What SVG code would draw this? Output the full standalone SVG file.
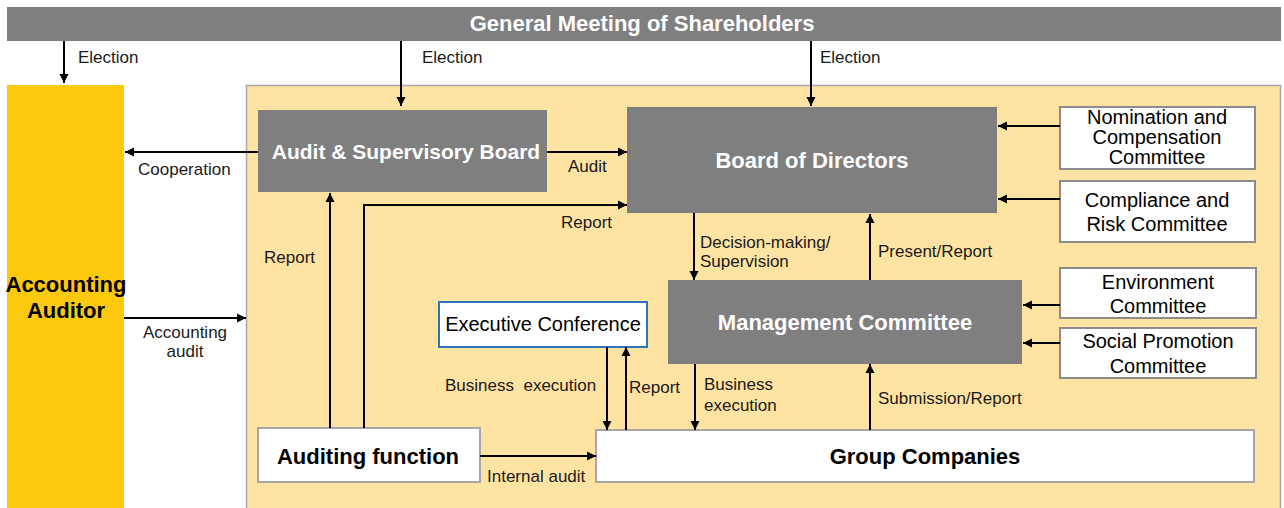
<svg xmlns="http://www.w3.org/2000/svg" width="1284" height="508" viewBox="0 0 1284 508">
<defs>
<style>
.gray{fill:#7f7f7f}
.wbox{fill:#ffffff;stroke:#8c8c8c;stroke-width:2}
.tb{font-family:"Liberation Sans",Arial,sans-serif;font-weight:bold;font-size:22px;text-anchor:middle}
.tw{fill:#ffffff}
.tk{fill:#000000}
.tc{font-family:"Liberation Sans",Arial,sans-serif;font-size:20px;fill:#000;text-anchor:middle}
.lb{font-family:"Liberation Sans",Arial,sans-serif;font-size:17px;fill:#1a1a1a}
.cn{fill:none;stroke:#000;stroke-width:2;marker-end:url(#ah)}
</style>
<marker id="ah" viewBox="0 0 10 10" refX="10" refY="5" markerWidth="9" markerHeight="10" markerUnits="userSpaceOnUse" orient="auto">
<path d="M0,0 L10,5 L0,10 z" fill="#000"/>
</marker>
</defs>
<rect x="0" y="0" width="1284" height="508" fill="#ffffff"/>

<g id="region">
<rect x="246.5" y="85.5" width="1034" height="424" fill="#ffe3a3" stroke="#a6a6a6" stroke-width="1.5"/>
</g>

<g id="shareholders">
<rect x="7" y="7" width="1274" height="34" class="gray"/>
<text x="642" y="31" class="tb tw">General Meeting of Shareholders</text>
</g>

<g id="accounting-auditor">
<rect x="7" y="85" width="117" height="423" fill="#fdc90c"/>
<text x="66" y="292" class="tb tk">Accounting</text>
<text x="66" y="318" class="tb tk">Auditor</text>
</g>

<g id="asb">
<rect x="258" y="110" width="289" height="82" class="gray"/>
<text x="406" y="159" class="tb tw" style="font-size:21px">Audit &amp; Supervisory Board</text>
</g>

<g id="bod">
<rect x="627" y="107" width="370" height="106" class="gray"/>
<text x="812" y="168" class="tb tw">Board of Directors</text>
</g>

<g id="nomination">
<rect x="1060" y="107" width="195" height="62" class="wbox"/>
<text x="1157" y="124" class="tc">Nomination and</text>
<text x="1157" y="144" class="tc">Compensation</text>
<text x="1157" y="164" class="tc">Committee</text>
</g>

<g id="compliance">
<rect x="1060" y="181" width="195" height="61" class="wbox"/>
<text x="1157" y="207" class="tc">Compliance and</text>
<text x="1157" y="231" class="tc">Risk Committee</text>
</g>

<g id="management">
<rect x="668" y="280" width="354" height="84" class="gray"/>
<text x="845" y="330" class="tb tw">Management Committee</text>
</g>

<g id="environment">
<rect x="1060" y="268" width="196" height="50" class="wbox"/>
<text x="1158" y="289" class="tc">Environment</text>
<text x="1158" y="313" class="tc">Committee</text>
</g>

<g id="social">
<rect x="1060" y="328" width="196" height="50" class="wbox"/>
<text x="1158" y="348" class="tc">Social Promotion</text>
<text x="1158" y="373" class="tc">Committee</text>
</g>

<g id="executive">
<rect x="439" y="302" width="208" height="45" fill="#ffffff" stroke="#2e75b6" stroke-width="2"/>
<text x="543" y="331" class="tc">Executive Conference</text>
</g>

<g id="auditing">
<rect x="258" y="428" width="222" height="54" fill="#ffffff" stroke="#a6a6a6" stroke-width="2"/>
<text x="368" y="464" class="tb tk">Auditing function</text>
</g>

<g id="group">
<rect x="596" y="430" width="658" height="52" fill="#ffffff" stroke="#a6a6a6" stroke-width="2"/>
<text x="925" y="464" class="tb tk">Group Companies</text>
</g>

<g id="connectors">
<line x1="64" y1="41" x2="64" y2="83" class="cn"/>
<line x1="401" y1="41" x2="401" y2="106" class="cn"/>
<line x1="811" y1="41" x2="811" y2="106" class="cn"/>
<line x1="258" y1="152" x2="125" y2="152" class="cn"/>
<line x1="547" y1="152" x2="627" y2="152" class="cn"/>
<polyline points="364,428 364,205 627,205" class="cn"/>
<line x1="330" y1="428" x2="330" y2="193" class="cn"/>
<line x1="124" y1="318" x2="246" y2="318" class="cn"/>
<line x1="694" y1="213" x2="694" y2="280" class="cn"/>
<line x1="870" y1="280" x2="870" y2="214" class="cn"/>
<line x1="1060" y1="126" x2="998" y2="126" class="cn"/>
<line x1="1060" y1="199" x2="998" y2="199" class="cn"/>
<line x1="1060" y1="305" x2="1023" y2="305" class="cn"/>
<line x1="1060" y1="343" x2="1023" y2="343" class="cn"/>
<line x1="607" y1="347" x2="607" y2="430" class="cn"/>
<line x1="626" y1="430" x2="626" y2="347" class="cn"/>
<line x1="695" y1="364" x2="695" y2="430" class="cn"/>
<line x1="870" y1="430" x2="870" y2="364" class="cn"/>
<line x1="480" y1="456" x2="596" y2="456" class="cn"/>
</g>

<g id="labels">
<text x="78" y="63" class="lb">Election</text>
<text x="422" y="63" class="lb">Election</text>
<text x="820" y="63" class="lb">Election</text>
<text x="138" y="175" class="lb">Cooperation</text>
<text x="568" y="172" class="lb">Audit</text>
<text x="561" y="228" class="lb">Report</text>
<text x="264" y="263" class="lb">Report</text>
<text x="185" y="338" class="lb" text-anchor="middle">Accounting</text>
<text x="185" y="357" class="lb" text-anchor="middle">audit</text>
<text x="700" y="248" class="lb">Decision-making/</text>
<text x="700" y="267" class="lb">Supervision</text>
<text x="878" y="257" class="lb">Present/Report</text>
<text x="445" y="391" class="lb" xml:space="preserve">Business  execution</text>
<text x="629" y="393" class="lb">Report</text>
<text x="704" y="390" class="lb">Business</text>
<text x="704" y="411" class="lb">execution</text>
<text x="878" y="404" class="lb">Submission/Report</text>
<text x="487" y="482" class="lb">Internal audit</text>
</g>
</svg>
